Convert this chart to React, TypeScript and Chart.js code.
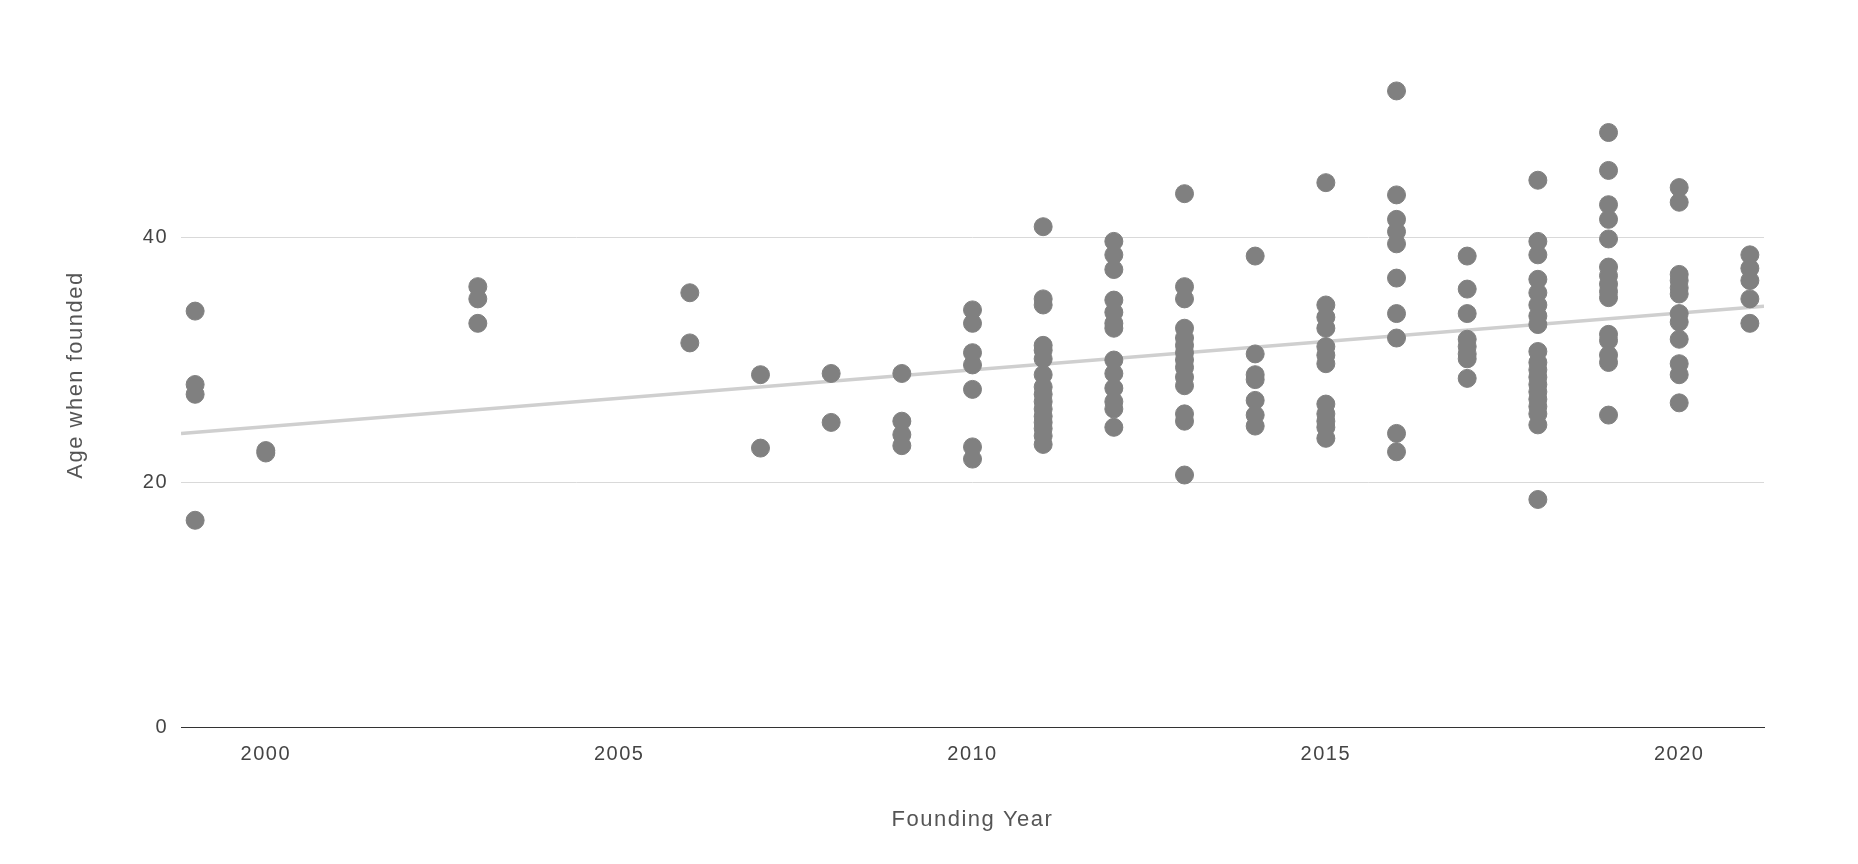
import React, { useEffect, useRef } from "react";
import { Chart, registerables } from "chart.js";

Chart.register(...registerables);

// Founding years present in the data (x positions)
const YEARS = [1999, 2000, 2003, 2006, 2007, 2008, 2009, 2010, 2011, 2012, 2013, 2014, 2015, 2016, 2017, 2018, 2019, 2020, 2021];

// Age when founded, per founding year
const AGES_1999 = [34, 28, 27.2, 16.9];
const AGES_2000 = [22.6, 22.4];
const AGES_2003 = [36, 35, 33];
const AGES_2006 = [35.5, 31.4];
const AGES_2007 = [28.8, 22.8];
const AGES_2008 = [28.9, 24.9];
const AGES_2009 = [28.9, 25, 23.9, 23];
const AGES_2010 = [34.1, 33, 30.6, 29.6, 27.6, 22.9, 21.9];
const AGES_2011 = [40.9, 35, 34.5, 31.2, 30.8, 30.1, 28.8, 27.8, 27.2, 26.6, 26, 25.4, 24.9, 24.4, 23.8, 23.1];
const AGES_2012 = [39.7, 38.6, 37.4, 34.9, 33.9, 33, 32.6, 30, 28.9, 27.7, 26.6, 26, 24.5];
const AGES_2013 = [43.6, 36, 35, 32.6, 31.8, 31.2, 30.6, 30, 29.4, 28.6, 27.9, 25.6, 25, 20.6];
const AGES_2014 = [38.5, 30.5, 28.8, 28.4, 26.7, 25.5, 24.6];
const AGES_2015 = [44.5, 34.5, 33.5, 32.6, 31.1, 30.4, 29.7, 26.4, 25.6, 25, 24.5, 23.6];
const AGES_2016 = [52, 43.5, 41.5, 40.5, 39.5, 36.7, 33.8, 31.8, 24, 22.5];
const AGES_2017 = [38.5, 35.8, 33.8, 31.7, 31.1, 30.5, 30.1, 28.5];
const AGES_2018 = [44.7, 39.7, 38.6, 36.6, 35.5, 34.5, 33.6, 32.9, 30.7, 29.8, 29.2, 28.6, 28, 27.4, 26.8, 26.2, 25.6, 24.7, 18.6];
const AGES_2019 = [48.6, 45.5, 42.7, 41.5, 39.9, 37.6, 36.9, 36.2, 35.6, 35.1, 32.1, 31.6, 30.4, 29.8, 25.5];
const AGES_2020 = [44.1, 42.9, 37, 36.5, 35.9, 35.4, 33.8, 33.1, 31.7, 29.7, 28.8, 26.5];
const AGES_2021 = [38.6, 37.5, 36.5, 35, 33];

const AGES_BY_YEAR = [
  AGES_1999, AGES_2000, AGES_2003, AGES_2006, AGES_2007, AGES_2008, AGES_2009, AGES_2010,
  AGES_2011, AGES_2012, AGES_2013, AGES_2014, AGES_2015, AGES_2016, AGES_2017, AGES_2018,
  AGES_2019, AGES_2020, AGES_2021,
];

// Trendline endpoints
const TREND_X = [1998.8, 2021.2];
const TREND_Y = [24.0, 34.4];

// Axes
const X_TICKS = [2000, 2005, 2010, 2015, 2020];
const Y_TICKS = [0, 20, 40];
const X_MIN = 1998.8;
const X_MAX = 2021.2;
const Y_MIN = 0;
const Y_MAX = 56;

const X_TITLE = "Founding Year";
const Y_TITLE = "Age when founded";

const FONT_FAMILY = "'Liberation Sans', Arial, sans-serif";
const SPACING = "1.5px";

export default function App() {
  const canvasRef = useRef<HTMLCanvasElement>(null);

  useEffect(() => {
    document.body.style.margin = "0";
    const canvas = canvasRef.current;
    if (!canvas) return;

    const points = YEARS.flatMap((yr, i) => AGES_BY_YEAR[i].map((a) => ({ x: yr, y: a })));
    const trend = TREND_X.map((x, i) => ({ x, y: TREND_Y[i] }));

    const tickFont = { family: FONT_FAMILY, size: 20 };
    const titleFont = { family: FONT_FAMILY, size: 22 };

    const spacingPlugin = {
      id: "letterSpacing",
      beforeUpdate(c: any) {
        c.ctx.letterSpacing = SPACING;
      },
      beforeDraw(c: any) {
        c.ctx.letterSpacing = SPACING;
      },
      afterDraw(c: any) {
        const ctx = c.ctx;
        ctx.save();
        ctx.letterSpacing = SPACING;
        ctx.font = `${titleFont.size}px ${FONT_FAMILY}`;
        ctx.fillStyle = "#555555";
        ctx.textAlign = "center";
        ctx.textBaseline = "middle";
        ctx.translate(76, 375);
        ctx.rotate(-Math.PI / 2);
        ctx.fillText(Y_TITLE, 0, 0);
        ctx.restore();
      },
    };

    const chart = new Chart(canvas, {
      type: "scatter",
      data: {
        datasets: [
          {
            label: "Age when founded",
            data: points,
            backgroundColor: "#808080",
            borderColor: "#808080",
            borderWidth: 1,
            pointRadius: 9,
            pointHoverRadius: 9,
          },
          {
            label: "Trendline",
            data: trend,
            showLine: true,
            borderColor: "#cfcfcf",
            backgroundColor: "#cfcfcf",
            borderWidth: 3.5,
            pointRadius: 0,
            pointHoverRadius: 0,
            fill: false,
          } as any,
        ],
      },
      options: {
        animation: false,
        responsive: false,
        maintainAspectRatio: false,
        events: [],
        layout: { padding: { left: 0, right: 94, top: 42, bottom: 0 } },
        plugins: {
          legend: { display: false },
          tooltip: { enabled: false },
        },
        scales: {
          x: {
            type: "linear",
            min: X_MIN,
            max: X_MAX,
            afterBuildTicks: (s: any) => {
              s.ticks = X_TICKS.map((v) => ({ value: v }));
            },
            afterFit: (s: any) => {
              s.height = 137;
            },
            grid: { display: false, drawTicks: false },
            border: { display: true, color: "#333333", width: 1 },
            ticks: {
              padding: 15,
              font: tickFont,
              color: "#444444",
              maxRotation: 0,
              minRotation: 0,
              autoSkip: false,
              callback: (v: any) => String(v),
            },
            title: {
              display: true,
              text: X_TITLE,
              font: titleFont,
              color: "#555555",
              padding: { top: 0, bottom: 31 },
            },
          },
          y: {
            type: "linear",
            min: Y_MIN,
            max: Y_MAX,
            afterBuildTicks: (s: any) => {
              s.ticks = Y_TICKS.map((v) => ({ value: v }));
            },
            afterFit: (s: any) => {
              s.width = 181;
            },
            grid: {
              drawTicks: false,
              color: (ctx: any) => (ctx.tick && ctx.tick.value === 0 ? "rgba(0,0,0,0)" : "#d9d9d9"),
              lineWidth: 1,
            },
            border: { display: false },
            ticks: {
              padding: 13,
              font: tickFont,
              color: "#444444",
              callback: (v: any) => String(v),
            },
            title: { display: false },
          },
        },
      },
      plugins: [spacingPlugin],
    });

    return () => chart.destroy();
  }, []);

  return (
    <div style={{ width: 1858, height: 864 }}>
      <canvas ref={canvasRef} width={1858} height={864} style={{ display: "block", width: 1858, height: 864 }} />
    </div>
  );
}
